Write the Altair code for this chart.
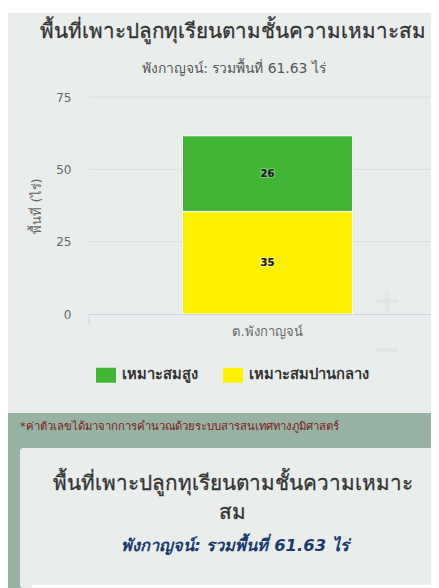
import altair as alt
import pandas as pd

classes = ["เหมาะสมสูง", "เหมาะสมปานกลาง"]
areas = [26.2, 35.4]
colors = ["#41b536", "#fff200"]
district = ["ต.พังกาญจน์"]
y_ticks = [0, 25, 50, 75]
title_text = "พื้นที่เพาะปลูกทุเรียนตามชั้นความเหมาะสม"
subtitle_text = "พังกาญจน์: รวมพื้นที่ 61.63 ไร่"
footnote_text = "*ค่าตัวเลขได้มาจากการคำนวณด้วยระบบสารสนเทศทางภูมิศาสตร์"
lower_title_1 = "พื้นที่เพาะปลูกทุเรียนตามชั้นความเหมาะ"
lower_title_2 = "สม"
FONT = "DejaVu Sans"

OX, OY = 89, 97  # page position of the plot area
W, H = 342, 217  # the svg cannot be wider than the page's 423px body
PAGE_B = 588


def px(v):
    return alt.value(v - OX)


def py(v):
    return alt.value(v - OY)


def panel(x0, y0, x1, y1, color, radius=0):
    return alt.Chart().mark_rect(color=color, cornerRadius=radius).encode(
        x=px(x0), x2=px(x1), y=py(y0), y2=py(y1))


def label(text, x, y, size, color, weight="normal", style="normal", align="center", stroke=0.0):
    return alt.Chart().mark_text(
        text=text, fontSize=size, color=color, fontWeight=weight, fontStyle=style,
        align=align, baseline="middle", font=FONT, stroke=color, strokeWidth=stroke).encode(
        x=px(x), y=py(y))


rows = []
base = 0
for c, a in zip(reversed(classes), reversed(areas)):
    rows.append({"d": district[0], "c": c, "y0": base, "y1": base + a,
                 "mid": base + a / 2, "lab": str(int(a))})
    base += a
df = pd.DataFrame(rows)

x_scale = alt.Scale(range=[0, 357])
x_enc = alt.X("d:N", scale=x_scale, title=None,
              axis=alt.Axis(labelAngle=0, ticks=False, labelFont=FONT, labelFontSize=13,
                            labelColor="#666666", labelPadding=11, domainColor="#ccd6eb",
                            domainWidth=1, zindex=1))
y_scale = alt.Scale(domain=[0, 75], range=[H, 0], nice=False)

grid = alt.Chart(pd.DataFrame({"t": y_ticks[1:]})).mark_rule(color="#dcdfde", strokeWidth=1).encode(
    y=alt.Y("t:Q", scale=y_scale, title="พื้นที่ (ไร่)",
            axis=alt.Axis(values=y_ticks, grid=False, ticks=False, domain=False, labelFont=FONT,
                          labelFontSize=12, labelColor="#666666", labelPadding=18,
                          titleFont=FONT, titleFontSize=13, titleColor="#666666",
                          titleFontWeight="normal", titlePadding=12, zindex=1)),
    x=alt.value(0), x2=alt.value(W))

bars = alt.Chart(df).mark_bar(size=170, stroke="white", strokeWidth=1).encode(
    x=x_enc,
    y=alt.Y("y0:Q", scale=y_scale),
    y2="y1:Q",
    color=alt.Color("c:N", scale=alt.Scale(domain=classes, range=colors), title=None,
                    legend=alt.Legend(orient="none", legendX=7, legendY=268, direction="horizontal",
                                      symbolType="M-1,-0.75H1V0.75H-1Z", symbolSize=400,
                                      symbolStrokeWidth=0, symbolOpacity=1, labelFont=FONT,
                                      labelFontSize=14.7, labelFontWeight="bold",
                                      labelColor="#333333", columnPadding=25, labelOffset=6,
                                      labelLimit=200)),
)
halo = alt.Chart(df).mark_text(fontSize=10, fontWeight="bold", font=FONT, stroke="white",
                               strokeWidth=2, strokeOpacity=0.35).encode(
    x=alt.X("d:N", scale=x_scale), y=alt.Y("mid:Q", scale=y_scale), text="lab:N")
vals = alt.Chart(df).mark_text(fontSize=10, fontWeight="bold", font=FONT, color="#222222").encode(
    x=alt.X("d:N", scale=x_scale), y=alt.Y("mid:Q", scale=y_scale), text="lab:N")

tick = alt.Chart().mark_rule(color="#ccd6eb").encode(x=alt.value(0), y=alt.value(H), y2=alt.value(H + 11))

chart = alt.layer(
    panel(8, 13, 439, 413, "#e9eeec"),
    panel(8, 413, 439, 588, "#97b3a3"),
    panel(20, 448, 439, 588, "#e9eeec", 3),
    panel(32, 585, 433, 588, "#ffffff"),
    label("+", 387, 302, 34, "#e2e7e5", weight="bold"),
    label("−", 387, 351, 34, "#e2e7e5", weight="bold"),
    label(title_text, 233, 32, 20.6, "#333333", stroke=0.3),
    label(subtitle_text, 234, 69, 13.9, "#555555"),
    label(footnote_text, 20, 427, 11.3, "#7a1a1a", align="left"),
    label(lower_title_1, 233, 484, 20.7, "#333333", stroke=0.3),
    label(lower_title_2, 232, 513, 20.7, "#333333", stroke=0.3),
    label(subtitle_text, 235, 546, 16.4, "#1a3a6e", weight="bold", style="italic"),
    grid,
    bars,
    tick,
    halo,
    vals,
).properties(
    width=W, height=H,
    padding={"left": OX - 8, "top": OY - 8, "right": 0, "bottom": PAGE_B - OY - H},
    autosize=alt.AutoSizeParams(type="none"),
).configure_view(stroke=None)

chart.save("out.html", embed_options={"renderer": "svg", "actions": False})
